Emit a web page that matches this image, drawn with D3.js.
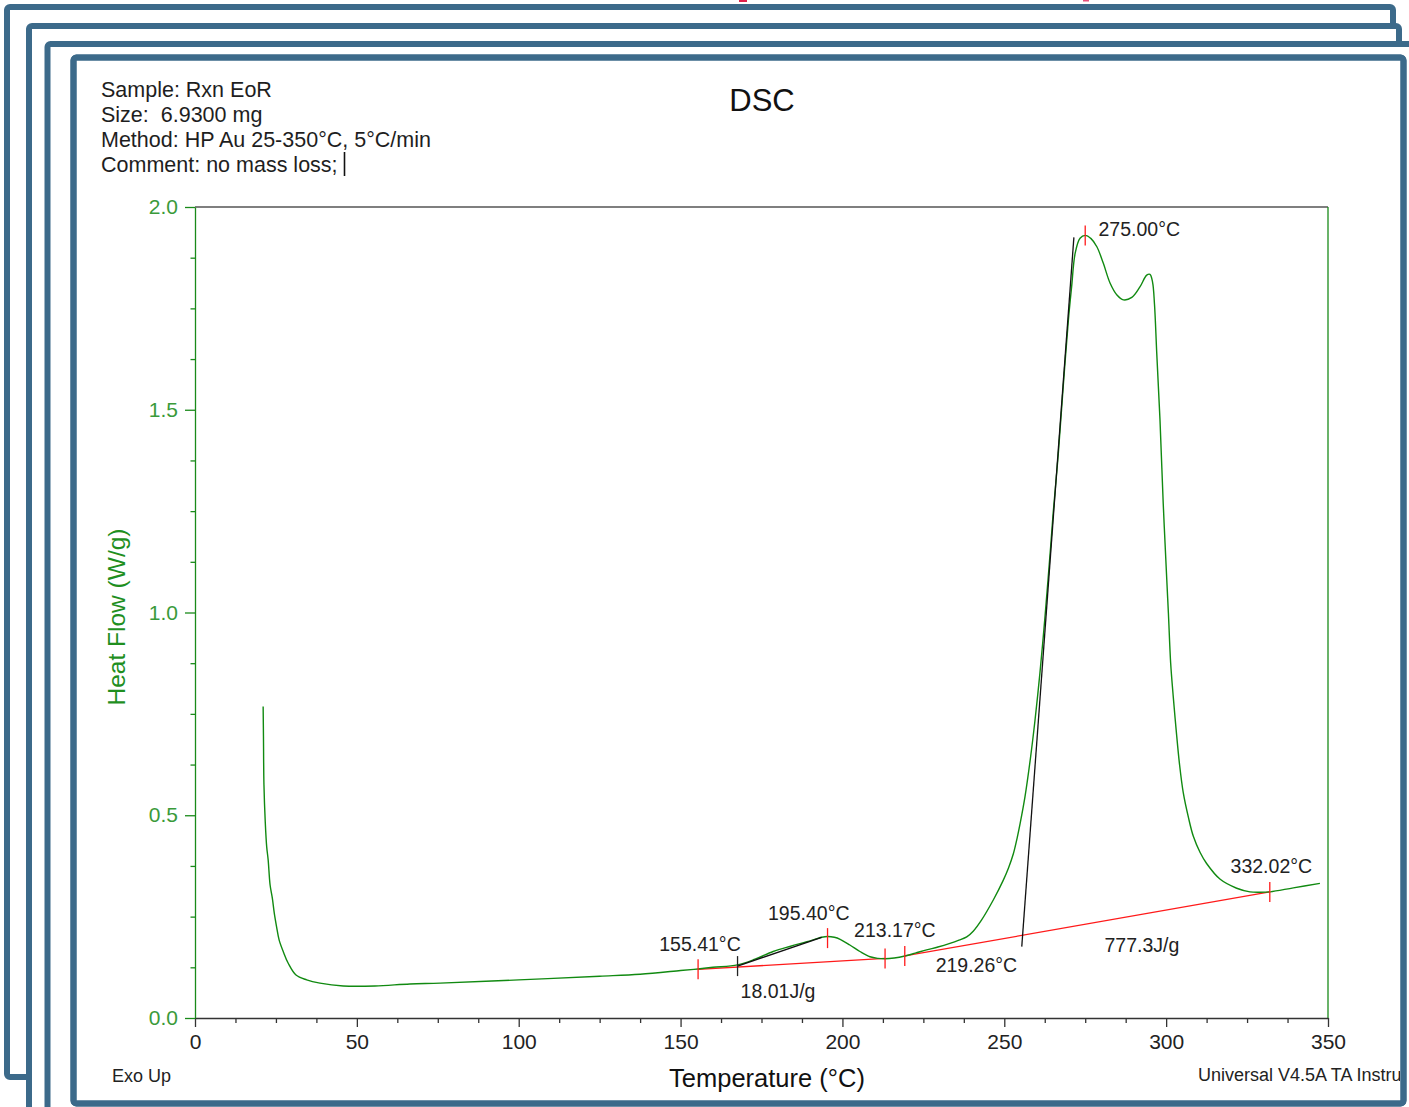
<!DOCTYPE html>
<html>
<head>
<meta charset="utf-8">
<script src="https://cdn.jsdelivr.net/npm/d3@7"></script>
<style>
  body { margin: 0; background: #fff; }
  svg { display: block; font-family: "Liberation Sans", Arial, sans-serif; }
</style>
</head>
<body>
<div id="chart"></div>
<script>
/* ---------- data ---------- */
const temps = [
  21.05, 21.15, 21.3, 21.7, 22.15, 22.6, 23.2, 23.9, 24.5, 25.2, 26.0, 27.3, 28.8, 31.2, 34.5,
  38.6, 45.8, 55.6, 66.4, 75.7, 100, 125, 137.5, 150, 155.4, 160, 167.6, 173, 178.6, 184,
  189, 193.6, 195.4, 197.5, 199.3, 202.3, 205.4, 208.5, 211, 213.2, 216, 219.3, 222.5, 226,
  229.5, 233.2, 236, 238.4, 240.4, 243.0, 246.6, 249.7, 251.3, 252.8, 254.0, 254.9, 256.4, 258.0, 259.5,
  261.0, 262.2, 263.3, 264.3, 265.1, 266.7, 268.2, 269.8, 270.8, 271.9, 273.4, 275.0, 276.8,
  278.6, 280.6, 282.7, 284.8, 286.8, 289.4, 291.9, 294.0, 295.0, 295.8, 296.4, 297.1, 298.1, 299.1,
  300.2, 300.7, 301.4, 302.2, 303.1, 304.1, 305.3, 306.9, 308.4, 310.5, 312.5, 316.7, 321.8,
  325.9, 329.0, 332.0, 339.3, 347.5
];
const heatFlow = [
  0.768, 0.694, 0.575, 0.484, 0.422, 0.390, 0.328, 0.295, 0.258, 0.225, 0.192, 0.163, 0.135, 0.106, 0.094,
  0.086, 0.079, 0.079, 0.084, 0.086, 0.094, 0.103, 0.108, 0.117, 0.121, 0.125, 0.131, 0.145, 0.164, 0.177,
  0.188, 0.199, 0.201, 0.199, 0.194, 0.180, 0.164, 0.151, 0.147, 0.146, 0.148, 0.153, 0.160, 0.168,
  0.175, 0.184, 0.192, 0.200, 0.214, 0.242, 0.291, 0.340, 0.370, 0.405, 0.445, 0.480, 0.546, 0.636, 0.735,
  0.850, 0.955, 1.060, 1.160, 1.245, 1.393, 1.557, 1.721, 1.803, 1.886, 1.923, 1.930, 1.922,
  1.902, 1.861, 1.812, 1.783, 1.771, 1.777, 1.803, 1.832, 1.834, 1.815, 1.760, 1.639, 1.475, 1.269,
  1.080, 0.998, 0.875, 0.792, 0.710, 0.628, 0.555, 0.494, 0.448, 0.408, 0.381, 0.342, 0.320,
  0.311, 0.310, 0.311, 0.321, 0.332
];

// integration baselines (red) and tangent lines (black), [T, W/g]
const baselines = [
  [[155.41, 0.120], [213.17, 0.147]],
  [[219.26, 0.153], [332.02, 0.311]]
];
const tangents = [
  [[167.6, 0.128], [193.6, 0.199]],
  [[255.4, 0.176], [271.5, 1.925]]
];
// marker ticks on the curve
const markers = [
  {t: 155.41, hf: 0.120, color: "red"},
  {t: 195.40, hf: 0.197, color: "red"},
  {t: 213.17, hf: 0.147, color: "red"},
  {t: 219.26, hf: 0.153, color: "red"},
  {t: 275.00, hf: 1.930, color: "red"},
  {t: 332.02, hf: 0.311, color: "red"},
  {t: 167.6,  hf: 0.128, color: "black"}
];
// annotation text, anchored (middle, baseline) in data units
const notes = [
  {text: "155.41°C", t: 156.0, hf: 0.165},
  {text: "195.40°C", t: 189.6, hf: 0.242},
  {text: "213.17°C", t: 216.2, hf: 0.199},
  {text: "219.26°C", t: 241.4, hf: 0.113},
  {text: "18.01J/g", t: 180.1, hf: 0.049},
  {text: "275.00°C", t: 291.7, hf: 1.928},
  {text: "332.02°C", t: 332.5, hf: 0.358},
  {text: "777.3J/g", t: 292.5, hf: 0.163}
];

const xMajor = [0, 50, 100, 150, 200, 250, 300, 350];
const yMajor = [0.0, 0.5, 1.0, 1.5, 2.0];
const headerLines = [
  "Sample: Rxn EoR",
  "Size:  6.9300 mg",
  "Method: HP Au 25-350°C, 5°C/min",
  "Comment: no mass loss;"
];

/* ---------- svg ---------- */
const W = 1409, H = 1107;
const svg = d3.select("#chart").append("svg")
  .attr("width", W).attr("height", H);

const frameColor = "#3c6a8a";

// stacked page frames, back to front
const frames = [
  {x: 7,    y: 7,    w: 1386, h: 1070},
  {x: 29,   y: 26,   w: 1370, h: 1120},
  {x: 47.5, y: 44,   w: 1420, h: 1120},
  {x: 73.5, y: 57.5, w: 1330, h: 1046}
];
svg.selectAll("rect.frame").data(frames).enter().append("rect")
  .attr("class", "frame")
  .attr("x", d => d.x).attr("y", d => d.y)
  .attr("width", d => d.w).attr("height", d => d.h)
  .attr("rx", 3)
  .attr("fill", "#fff")
  .attr("stroke", frameColor)
  .attr("stroke-width", 6);

// little red fragments at the very top edge
svg.append("rect").attr("x", 739).attr("y", 0).attr("width", 8).attr("height", 2).attr("fill", "#e0204a");
svg.append("rect").attr("x", 1083).attr("y", 0).attr("width", 6).attr("height", 1.5).attr("fill", "#e8507a");

svg.append("defs").append("clipPath").attr("id", "inner")
  .append("rect").attr("x", 77).attr("y", 61).attr("width", 1323).attr("height", 1039);

const g = svg.append("g").attr("clip-path", "url(#inner)");

/* ---------- header ---------- */
const header = g.append("g").attr("fill", "#1e1e1e").style("font-size", "21.5px");
header.selectAll("text").data(headerLines).enter().append("text")
  .attr("x", 101)
  .attr("y", (d, i) => 96.5 + i * 25)
  .attr("xml:space", "preserve")
  .style("white-space", "pre")
  .text(d => d);
// text cursor after the comment
g.append("line").attr("x1", 344.5).attr("x2", 344.5).attr("y1", 152).attr("y2", 176)
  .attr("stroke", "#111").attr("stroke-width", 1.6);

g.append("text").attr("x", 762).attr("y", 111).attr("text-anchor", "middle")
  .style("font-size", "31px").attr("fill", "#111").text("DSC");

/* ---------- scales & axes ---------- */
const x = d3.scaleLinear().domain([0, 350]).range([195, 1328]);
const y = d3.scaleLinear().domain([0, 2]).range([1018, 207]);

// frame of the plot: top dark, right green
g.append("line").attr("x1", x(0)).attr("x2", x(350)).attr("y1", y(2)).attr("y2", y(2))
  .attr("stroke", "#555").attr("stroke-width", 1.3);
g.append("line").attr("x1", x(350)).attr("x2", x(350)).attr("y1", y(2)).attr("y2", y(0))
  .attr("stroke", "#1a8a1a").attr("stroke-width", 1.3);

const xMinor = d3.range(0, 350.01, 12.5).filter(v => v % 50 !== 0);
g.append("g").attr("transform", `translate(0,${y(0)})`)
  .call(d3.axisBottom(x).tickValues(xMinor).tickSize(5).tickFormat(""))
  .call(a => a.select(".domain").remove())
  .call(a => a.selectAll("line").attr("stroke", "#333").attr("stroke-width", 1.3));
const xAxis = g.append("g").attr("transform", `translate(0,${y(0)})`)
  .call(d3.axisBottom(x).tickValues(xMajor).tickSize(9).tickSizeOuter(0).tickFormat(d3.format("d")));
xAxis.select(".domain").attr("stroke", "#333").attr("stroke-width", 1.3);
xAxis.selectAll("line").attr("stroke", "#333").attr("stroke-width", 1.3);
xAxis.selectAll("text").attr("y", 31).attr("dy", 0)
  .style("font-size", "21px").style("font-family", "'Liberation Sans', Arial, sans-serif")
  .attr("fill", "#222");

const yMinor = d3.range(0, 2.001, 0.125).filter(v => Math.abs(v * 2 - Math.round(v * 2)) > 1e-6);
g.append("g").attr("transform", `translate(${x(0)},0)`)
  .call(d3.axisLeft(y).tickValues(yMinor).tickSize(4.5).tickFormat(""))
  .call(a => a.select(".domain").remove())
  .call(a => a.selectAll("line").attr("stroke", "#1a8a1a").attr("stroke-width", 1.3));
const yAxis = g.append("g").attr("transform", `translate(${x(0)},0)`)
  .call(d3.axisLeft(y).tickValues(yMajor).tickSize(10).tickSizeOuter(0).tickFormat(d3.format(".1f")));
yAxis.select(".domain").attr("stroke", "#1a8a1a").attr("stroke-width", 1.3);
yAxis.selectAll("line").attr("stroke", "#1a8a1a").attr("stroke-width", 1.3);
yAxis.selectAll("text").attr("x", -17)
  .style("font-size", "21px").style("font-family", "'Liberation Sans', Arial, sans-serif")
  .attr("fill", "#3a9a3a");

g.append("text")
  .attr("transform", "translate(116,617) rotate(-90)")
  .attr("text-anchor", "middle").attr("dy", "0.35em")
  .style("font-size", "24.5px").attr("fill", "#1f8f1f")
  .text("Heat Flow (W/g)");

g.append("text").attr("x", 767).attr("y", 1087).attr("text-anchor", "middle")
  .style("font-size", "25.5px").attr("fill", "#111").text("Temperature (°C)");

g.append("text").attr("x", 112).attr("y", 1082)
  .style("font-size", "18px").attr("fill", "#222").text("Exo Up");
g.append("text").attr("x", 1198).attr("y", 1081)
  .style("font-size", "18px").attr("fill", "#222").text("Universal V4.5A TA Instru");

/* ---------- curve ---------- */
const pts = temps.map((t, i) => [t, heatFlow[i]]);
const line = d3.line().x(d => x(d[0])).y(d => y(d[1])).curve(d3.curveCatmullRom.alpha(0.5));

g.append("g").selectAll("path.base").data(baselines).enter().append("path")
  .attr("d", d => d3.line().x(p => x(p[0])).y(p => y(p[1]))(d))
  .attr("fill", "none").attr("stroke", "#ff1a1a").attr("stroke-width", 1.3);

g.append("path").datum(pts)
  .attr("d", line)
  .attr("fill", "none").attr("stroke", "#118a11").attr("stroke-width", 1.4);

g.append("g").selectAll("path.tan").data(tangents).enter().append("path")
  .attr("d", d => d3.line().x(p => x(p[0])).y(p => y(p[1]))(d))
  .attr("fill", "none").attr("stroke", "#111").attr("stroke-width", 1.3);

g.append("g").selectAll("line").data(markers).enter().append("line")
  .attr("x1", d => x(d.t)).attr("x2", d => x(d.t))
  .attr("y1", d => y(d.hf) - 10).attr("y2", d => y(d.hf) + 10)
  .attr("stroke", d => d.color === "red" ? "#ff1a1a" : "#222").attr("stroke-width", 1.3);

g.append("g").selectAll("text").data(notes).enter().append("text")
  .attr("x", d => x(d.t)).attr("y", d => y(d.hf))
  .attr("text-anchor", "middle")
  .style("font-size", "19.5px").attr("fill", "#222")
  .text(d => d.text);

// front frame stroke again on top of clipped content
svg.append("rect")
  .attr("x", frames[3].x).attr("y", frames[3].y)
  .attr("width", frames[3].w).attr("height", frames[3].h)
  .attr("rx", 3).attr("fill", "none")
  .attr("stroke", frameColor).attr("stroke-width", 6);
</script>
</body>
</html>
